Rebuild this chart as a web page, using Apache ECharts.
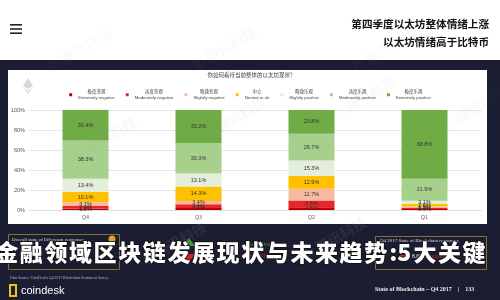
<!DOCTYPE html>
<html><head><meta charset="utf-8">
<script src="https://cdn.jsdelivr.net/npm/echarts@6/dist/echarts.min.js"></script>
<style>html,body{margin:0;padding:0;background:#1b1d32}#c{width:500px;height:300px}</style>
</head><body><div id="c"></div>
<script>
const categories = ['Q4', 'Q3', 'Q2', 'Q1'];
const namesEn = ['Extremely negative', 'Moderately negative', 'Slightly negative', 'Neutral or ok', 'Slightly positive', 'Moderately positive', 'Extremely positive'];
const namesCn = ['极度悲观', '适度悲观', '略微悲观', '中立', '略微乐观', '适度乐观', '极度乐观'];
const extremelyNegative = [1.5, 2.1, 2.8, 0.9];
const moderatelyNegative = [2.6, 3.6, 6.8, 1.2];
const slightlyNegative = [3.7, 3.4, 11.7, 1.5];
const neutral = [10.1, 14.3, 12.9, 2.6];
const slightlyPositive = [13.4, 13.1, 15.3, 3.1];
const moderatelyPositive = [38.3, 30.3, 26.7, 21.9];
const extremelyPositive = [30.4, 33.2, 23.8, 68.8];
const yTickLabels = ['0%', '20%', '40%', '60%', '80%', '100%'];
const headerLines = ['第四季度以太坊整体情绪上涨', '以太坊情绪高于比特币'];
const chartTitle = '你如何看待当前整体的以太坊现状?';
const overlayUnits = ['金', '融', '领', '域', '区', '块', '链', '发', '展', '现', '状', '与', '未', '来', '趋', '势', ':5', '大', '关', '键'];

const seriesValues = [extremelyNegative, moderatelyNegative, slightlyNegative, neutral, slightlyPositive, moderatelyPositive, extremelyPositive];
const colors = ['#c00000', '#e8262a', '#f7b9a1', '#ffc000', '#e4efdb', '#a8d08d', '#6fac46'];

const chart = echarts.init(document.getElementById('c'), null, {renderer: 'canvas'});

const series = seriesValues.map((vals, i) => ({
  name: namesEn[i],
  type: 'bar',
  stack: 'all',
  barWidth: 46,
  data: vals,
  itemStyle: {color: colors[i]},
  label: {
    show: true, position: 'inside', fontSize: 5.5, color: '#333',
    fontFamily: 'Liberation Sans',
    formatter: p => p.value.toFixed(1) + '%'
  }
}));

const watermark = (x, y, op, col) => ({
  type: 'text', x: x, y: y, rotation: Math.PI / 6, z: 50, silent: true,
  style: {text: '© 腾讯科技', fill: col, opacity: op, fontSize: 14, fontWeight: 'bold', fontFamily: 'Noto Sans CJK SC'}
});

const overlay = overlayUnits.map((ch, k) => ({
  type: 'text', x: 6.7 + 24.6 * k, y: 252, z: 100, silent: true,
  style: {text: ch, fill: '#ffffff', fontSize: 23, fontWeight: 900, fontFamily: 'Noto Sans CJK SC',
    align: 'center', verticalAlign: 'middle', stroke: '#111', lineWidth: 1.5,
    shadowColor: 'rgba(0,0,0,0.8)', shadowBlur: 3}
}));

const graphic = [
  // header
  {type: 'rect', shape: {x: 0, y: 0, width: 500, height: 60}, style: {fill: '#ffffff'}, z: -10},
  {type: 'rect', shape: {x: 10, y: 24, width: 12, height: 1.6}, style: {fill: '#222'}, z: -5},
  {type: 'rect', shape: {x: 10, y: 28.2, width: 12, height: 1.6}, style: {fill: '#222'}, z: -5},
  {type: 'rect', shape: {x: 10, y: 32.4, width: 12, height: 1.6}, style: {fill: '#222'}, z: -5},
  {type: 'text', x: 489, y: 24, z: -5, style: {text: headerLines[0], fill: '#111', fontSize: 10.6, fontWeight: 'bold', fontFamily: 'Noto Sans CJK SC', align: 'right', verticalAlign: 'middle'}},
  {type: 'text', x: 489, y: 42, z: -5, style: {text: headerLines[1], fill: '#111', fontSize: 10.6, fontWeight: 'bold', fontFamily: 'Noto Sans CJK SC', align: 'right', verticalAlign: 'middle'}},
  // chart panel
  {type: 'rect', shape: {x: 8, y: 70, width: 479, height: 154}, style: {fill: '#ffffff'}, z: -10},
  {type: 'polygon', shape: {points: [[28, 78], [33, 86], [28, 89], [23, 86]]}, style: {fill: '#d8d8d8'}, z: -5},
  {type: 'polygon', shape: {points: [[23, 87.5], [28, 90.5], [33, 87.5], [28, 94]]}, style: {fill: '#e2e2e2'}, z: -5},
  {type: 'text', x: 250, y: 75, z: -5, style: {text: chartTitle, fill: '#444', fontSize: 5.5, fontFamily: 'Noto Sans CJK SC', align: 'center', verticalAlign: 'middle'}},
  // bottom boxes
  {type: 'rect', shape: {x: 8.5, y: 234.5, width: 111, height: 35}, style: {fill: 'none', stroke: '#8a6f2e', lineWidth: 1}, z: 5},
  {type: 'circle', shape: {cx: 112, cy: 239, r: 3.5}, style: {fill: '#e0a030'}, z: 6},
  {type: 'text', x: 12, y: 240, z: 6, style: {text: 'Overall state of Ethereum responses', fill: '#ddd', fontSize: 5, fontFamily: 'Liberation Serif', verticalAlign: 'middle'}},
  {type: 'rect', shape: {x: 375.5, y: 236.5, width: 111, height: 33}, style: {fill: 'none', stroke: '#8a6f2e', lineWidth: 1}, z: 5},
  {type: 'text', x: 380, y: 241, z: 6, style: {text: 'Q4 2017 State of Blockchain responses', fill: '#ddd', fontSize: 5, fontFamily: 'Liberation Serif', verticalAlign: 'middle'}},
  {type: 'polygon', shape: {points: [[404, 246], [409, 253], [399, 253]]}, style: {fill: '#3f9a3a'}, z: 6},
  {type: 'polygon', shape: {points: [[399, 255], [409, 255], [404, 262]]}, style: {fill: '#d0202a'}, z: 6},
  {type: 'text', x: 412, y: 257, z: 6, style: {text: '8.6%', fill: '#eee', fontSize: 5.5, fontFamily: 'Liberation Serif', verticalAlign: 'middle'}},
  {type: 'text', x: 429, y: 257, z: 6, style: {text: 'negative', fill: '#d0202a', fontSize: 5.5, fontFamily: 'Liberation Serif', verticalAlign: 'middle'}},
  {type: 'polygon', shape: {points: [[36, 243], [41, 250], [31, 250]]}, style: {fill: '#3f9a3a'}, z: 6},
  {type: 'polygon', shape: {points: [[31, 252], [41, 252], [36, 259]]}, style: {fill: '#d0202a'}, z: 6},
  {type: 'polygon', shape: {points: [[189, 238], [195, 246], [183, 246]]}, style: {fill: '#3f9a3a'}, z: 6},
  {type: 'polygon', shape: {points: [[183, 254], [195, 254], [189, 262]]}, style: {fill: '#d0202a'}, z: 6},
  {type: 'text', x: 248, y: 244, z: 6, style: {text: 'positive', fill: '#3f9a3a', fontSize: 7, fontFamily: 'Liberation Serif', verticalAlign: 'middle'}},
  {type: 'text', x: 248, y: 255, z: 6, style: {text: 'negative', fill: '#d0202a', fontSize: 7, fontFamily: 'Liberation Serif', verticalAlign: 'middle'}},
  // footer
  {type: 'text', x: 10, y: 278, z: 6, style: {text: "Data Source: CoinDesk's Q4 2017 Blockchain Sentiment Survey", fill: '#bbb', fontSize: 3.8, fontFamily: 'Liberation Serif', verticalAlign: 'middle'}},
  {type: 'rect', shape: {x: 10, y: 285, width: 6, height: 11}, style: {fill: 'none', stroke: '#e8c020', lineWidth: 2}, z: 6},
  {type: 'text', x: 21, y: 290.5, z: 6, style: {text: 'coindesk', fill: '#ffffff', fontSize: 11, fontFamily: 'Liberation Sans', verticalAlign: 'middle'}},
  {type: 'text', x: 375, y: 289, z: 6, style: {text: 'State of Blockchain – Q4 2017    |    133', fill: '#eee', fontSize: 6, fontWeight: 'bold', fontFamily: 'Liberation Serif', verticalAlign: 'middle'}},
  // watermarks
  watermark(45, 62, 0.06, '#aaa'),
  watermark(190, 60, 0.07, '#aaa'),
  watermark(350, 62, 0.06, '#aaa'),
  watermark(70, 150, 0.06, '#888'),
  watermark(200, 130, 0.06, '#888'),
  watermark(330, 110, 0.05, '#888'),
  watermark(140, 255, 0.12, '#aaa'),
  watermark(300, 250, 0.12, '#aaa'),
  watermark(440, 120, 0.05, '#888')
].concat(overlay);

chart.setOption({
  backgroundColor: '#1b1d32',
  animation: false,
  textStyle: {fontFamily: 'Liberation Sans'},
  legend: {
    top: 84, left: 'center', itemWidth: 3, itemHeight: 3, itemGap: 11, icon: 'rect',
    data: namesEn,
    formatter: name => '{cn|' + namesCn[namesEn.indexOf(name)] + '}\n{en|' + name + '}',
    textStyle: {
      color: '#444', padding: [0, 0, 0, 1],
      rich: {
        cn: {fontSize: 4.5, fontFamily: 'Noto Sans CJK SC', color: '#444', align: 'center', lineHeight: 7},
        en: {fontSize: 4.3, fontFamily: 'Liberation Sans', color: '#444', lineHeight: 7}
      }
    }
  },
  grid: {left: 29, right: 19, top: 110, bottom: 90},
  xAxis: {
    type: 'category', data: categories,
    axisLine: {lineStyle: {color: '#ddd'}}, axisTick: {show: false},
    axisLabel: {fontSize: 5.5, color: '#666', margin: 4}
  },
  yAxis: {
    type: 'value', min: 0, max: 100, interval: 20,
    axisLabel: {fontSize: 5.5, color: '#555', margin: 4, formatter: v => yTickLabels[v / 20]},
    splitLine: {lineStyle: {color: '#e6e6e6'}}
  },
  series: series,
  graphic: graphic
});
</script></body></html>
